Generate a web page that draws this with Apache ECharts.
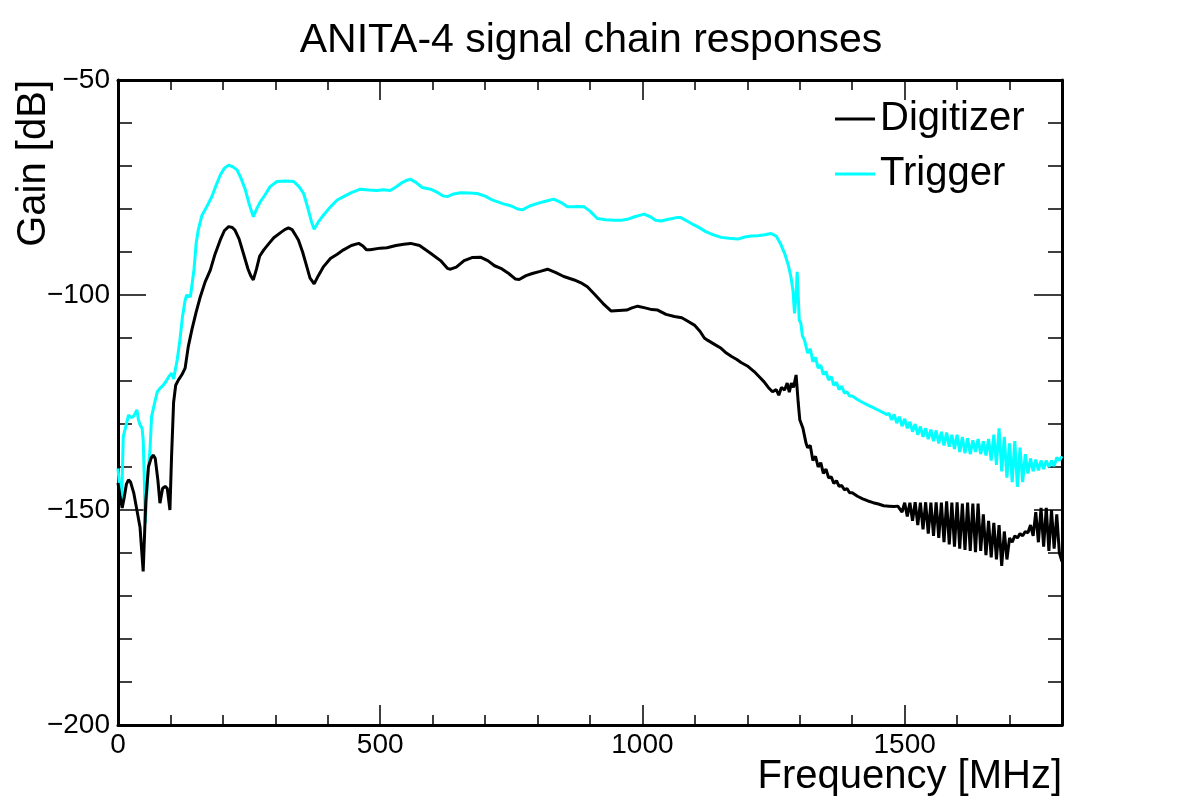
<!DOCTYPE html>
<html>
<head>
<meta charset="utf-8">
<script src="https://cdn.jsdelivr.net/npm/echarts@6/dist/echarts.min.js"></script>
<style>
html,body{margin:0;padding:0;background:#fff;}
#chart{width:1182px;height:805px;}
</style>
</head>
<body>
<div id="chart"></div>
<script>
const chartTitle = 'ANITA-4 signal chain responses';
const xTitle = 'Frequency [MHz]';
const yTitle = 'Gain [dB]';
const seriesNames = ['Digitizer', 'Trigger'];

// [frequency MHz, gain dB]
const digitizerPoints = [
[0,-143.7],[4,-147],[8,-149.5],[12,-147],[16,-144],[20,-143],[24,-143.5],[30,-146],[36,-150],[42,-154],[48,-164.3],[53,-148],[58,-140],[63,-138],[67,-137.2],[71,-138],[76,-143],[80,-148.4],[85,-145],[90,-144.5],[94,-145],[99,-150],[102,-138],[106,-125],[110,-121],[115,-119.8],[122,-118.5],[128,-117],[134,-112],[141,-108],[149,-104],[157,-100.4],[166,-97],[176,-94.2],[185,-90.5],[195,-87.2],[203,-85],[211,-84.1],[218,-84.3],[223,-84.9],[231,-87],[239,-90.3],[248,-94],[253,-95.5],[258,-96.5],[264,-94],[270,-91],[278,-89.5],[288,-88],[297,-86.7],[310,-85.5],[318,-84.8],[325,-84.4],[332,-84.8],[338,-86],[344,-87.2],[352,-90],[360,-93.4],[366,-96],[374,-97.4],[382,-95.5],[392,-93.4],[405,-91.5],[418,-90.5],[430,-89.5],[445,-88.5],[459,-88],[467,-88.6],[474,-89.5],[481,-89.5],[500,-89.1],[513,-89],[530,-88.5],[545,-88.2],[558,-88],[575,-88.5],[596,-90.3],[615,-92],[628,-93.8],[634,-94],[645,-93.5],[660,-92],[675,-91.3],[691,-91.2],[705,-92],[718,-93.2],[730,-93.8],[745,-95],[758,-96.3],[765,-96.4],[778,-95.5],[790,-95],[805,-94.5],[819,-94],[835,-94.8],[850,-95.7],[870,-96.5],[885,-97.3],[895,-98.1],[910,-100],[925,-102],[940,-103.7],[955,-103.6],[970,-103.5],[980,-103],[991,-102.6],[1005,-103],[1018,-103.4],[1029,-103.5],[1045,-104.5],[1061,-105],[1075,-105.3],[1085,-106],[1099,-107],[1110,-108.5],[1118,-110],[1124,-110.5],[1135,-111.3],[1150,-112.4],[1160,-113.5],[1170,-114.3],[1180,-115],[1188,-115.7],[1200,-116.5],[1213,-117.8],[1225,-119.3],[1232,-120.2],[1240,-121.5],[1248,-122.5],[1255,-122],[1260,-123.3],[1265,-121.5],[1271,-122.1],[1276,-120.5],[1280,-122.6],[1284,-120.5],[1288,-121.5],[1293,-118.6],[1297,-125],[1300,-129],[1306,-131],[1312,-134.5],
[1315,-135.5],[1320,-135],[1325,-138.5],[1330,-137.5],[1335,-140],[1340,-139],[1345,-141.5],[1350,-140.5],[1355,-142.5],[1360,-142.3],[1365,-143.8],[1370,-143.2],[1375,-144.5],[1380,-144.3],[1385,-145.3],[1390,-145],[1395,-146],[1400,-146],[1410,-146.8],[1420,-147.4],[1430,-147.9],[1440,-148.3],[1450,-148.6],[1460,-149],[1470,-149.1],[1480,-149.2],[1487,-149.1],
[1490,-149],[1495,-150.5],[1500,-148.3],[1505,-151.5],[1510,-148.3],[1515,-152.5],[1520,-148.2],[1525,-153.5],[1530,-148.3],[1535,-154.5],[1540,-148.2],[1545,-155.5],[1550,-148.3],[1555,-156],[1560,-148.2],[1565,-156.5],[1570,-148.3],[1575,-157.5],[1580,-148],[1585,-158],[1590,-148.3],[1595,-158.5],[1600,-148.2],[1605,-159],[1610,-148.5],[1615,-159.3],[1620,-148.3],[1625,-159.5],[1630,-148.5],[1635,-159.8],[1640,-148.5],[1645,-159.5],[1650,-151],[1655,-160.5],[1660,-152.5],[1665,-161],[1670,-153],[1675,-161.5],[1680,-153.5],[1685,-163],[1690,-155],[1695,-161.5],[1700,-156.5],[1705,-157.5],[1710,-156],[1715,-156.5],[1720,-155.5],[1725,-156],[1730,-155],[1735,-155.3],[1740,-153.5],[1745,-156],[1750,-150.5],[1755,-157.5],[1760,-149.5],[1765,-158.5],[1770,-149.5],[1775,-159.5],[1780,-150],[1785,-159],[1790,-151],[1795,-160],[1800,-162]
];

const triggerPoints = [
[0,-140.3],[4,-146],[7,-147.7],[10,-133],[14,-131],[18,-129],[20,-127.9],[25,-128.5],[29,-128.3],[33,-127.5],[36,-126.7],[39,-129],[42,-130.2],[46,-131],[48,-133.7],[50,-142],[52,-153],[55,-146],[58,-140],[61,-136],[64,-128.3],[70,-125],[75,-122.5],[80,-121.7],[86,-121],[92,-120],[98,-118.8],[102,-118.2],[106,-119.5],[109,-119.8],[113,-115],[118,-110.5],[123,-105],[128,-101.2],[131,-100],[134,-99.6],[138,-100.4],[141,-100.4],[145,-94],[149,-88],[153,-84.9],[160,-81.5],[166,-80.2],[172,-78.8],[179,-77.1],[187,-74.5],[195,-72.1],[203,-70.5],[211,-69.8],[219,-70.2],[227,-70.9],[235,-73],[243,-75.6],[250,-78.8],[258,-81.8],[265,-79.8],[272,-78.2],[280,-76.8],[290,-74.8],[303,-73.6],[320,-73.5],[335,-73.6],[345,-74.8],[354,-76.4],[362,-79.8],[369,-83],[374,-84.7],[382,-83],[392,-81.4],[405,-79.5],[418,-77.9],[432,-77],[445,-76.2],[462,-75.4],[478,-75.6],[494,-75.7],[506,-75.5],[519,-75.7],[530,-74.9],[540,-74],[551,-73.3],[558,-73.1],[568,-73.8],[580,-75],[596,-75.4],[610,-76.2],[620,-77],[628,-77.1],[640,-76.5],[653,-76.2],[670,-76.3],[685,-76.4],[700,-77],[712,-77.8],[723,-78.3],[735,-78.8],[750,-79.3],[762,-80],[771,-80.2],[785,-79.3],[800,-78.7],[815,-78.2],[831,-77.7],[845,-78.5],[857,-79.5],[866,-79.5],[878,-79.4],[889,-79.5],[900,-80.5],[914,-82.2],[930,-82.5],[946,-82.6],[960,-82.6],[971,-82.4],[985,-81.8],[1003,-81.2],[1015,-81.8],[1025,-82.6],[1035,-82.8],[1050,-82.4],[1065,-82],[1073,-82],[1085,-82.8],[1095,-83.5],[1105,-84.1],[1120,-85.2],[1135,-86],[1150,-86.6],[1165,-86.8],[1182,-87],[1195,-86.5],[1207,-86.3],[1220,-86.2],[1233,-86],[1245,-85.7],[1255,-86.3],[1263,-88],[1271,-90.3],[1278,-93],[1283,-95.7],[1287,-99],[1290,-104.3],[1293,-100],[1295,-94.6],[1297,-100],[1299,-105.8],[1302,-106.5],[1305,-109.5],[1309,-110.5],
[1310,-110.5],[1315,-113.5],[1320,-112.5],[1325,-115.5],[1330,-114.5],[1335,-117],[1340,-116.3],[1345,-118.5],[1350,-117.8],[1355,-119.8],[1360,-119],[1365,-121],[1370,-120.3],[1375,-122],[1380,-121.2],[1385,-122.8],[1390,-122.5],[1395,-123.5],[1400,-123.5],[1410,-124.3],[1420,-125],[1430,-125.6],[1440,-126.2],[1450,-126.8],[1460,-127.4],[1465,-127.8],[1470,-127.5],[1475,-129],[1480,-127.8],[1485,-129.8],[1490,-128.3],[1495,-130.5],[1500,-128.8],[1505,-131],[1510,-129.5],[1515,-131.8],[1520,-130],[1525,-132.5],[1530,-130.6],[1535,-133],[1540,-131],[1545,-133.5],[1550,-131.3],[1555,-134],[1560,-131.5],[1565,-134.5],[1570,-131.8],[1575,-135],[1580,-132],[1585,-135.3],[1590,-132.5],[1595,-135.8],[1600,-132.5],[1605,-136.5],[1610,-133],[1615,-136.8],[1620,-133.3],[1625,-137],[1630,-133.8],[1635,-136.5],[1640,-133.5],[1645,-137],[1650,-134],[1655,-137.3],[1660,-133.5],[1665,-138.5],[1670,-132.5],[1675,-139.5],[1680,-131],[1685,-141],[1690,-133],[1695,-142.5],[1700,-134.5],[1705,-143.5],[1710,-134],[1715,-144.6],[1720,-135.5],[1725,-143.5],[1730,-137],[1735,-141.5],[1740,-138],[1745,-141],[1750,-138.3],[1755,-140.8],[1760,-138.5],[1765,-140.5],[1770,-138.5],[1775,-140],[1780,-138.5],[1785,-139.8],[1790,-137.8],[1795,-138.5],[1800,-137.5]
];

const FONT = '"Liberation Sans", Arial, Helvetica, sans-serif';
const chart = echarts.init(document.getElementById('chart'), null, {renderer: 'canvas'});
const minus = v => String(v).replace('-', '\u2212');
const tickLine = {color: '#000', width: 1.5};

function xAx(pos, interval, len, labels, line) {
  return {
    type: 'value', gridIndex: 0, position: pos, min: 0, max: 1800, interval: interval,
    axisLine: {show: line, onZero: false, lineStyle: {color: '#000', width: 3}},
    axisTick: {show: true, inside: true, length: len, lineStyle: tickLine},
    axisLabel: {show: labels, fontFamily: FONT, fontSize: 28, color: '#000', margin: 6,
      showMaxLabel: false, formatter: v => minus(v)},
    splitLine: {show: false}
  };
}
function yAx(pos, labels) {
  return {
    type: 'value', gridIndex: 0, position: pos, min: -200, max: -50, interval: 50,
    axisLine: {show: true, onZero: false, lineStyle: {color: '#000', width: 3}},
    axisTick: {show: true, inside: true, length: 28, lineStyle: tickLine},
    minorTick: {show: true, splitNumber: 5, length: 14, lineStyle: tickLine},
    axisLabel: {show: labels, fontFamily: FONT, fontSize: 28, color: '#000', margin: 8,
      formatter: v => minus(v)},
    splitLine: {show: false}
  };
}

chart.setOption({
  animation: false,
  backgroundColor: '#ffffff',
  title: {
    text: chartTitle, left: 'center', top: 15,
    textStyle: {fontFamily: FONT, fontSize: 41, fontWeight: 'normal', color: '#000'}
  },
  grid: {left: 118, right: 120, top: 80, bottom: 80, containLabel: false},
  legend: {
    data: seriesNames, orient: 'vertical', left: 830, top: 94, itemGap: 15,
    icon: 'rect', itemWidth: 40, itemHeight: 3,
    textStyle: {fontFamily: FONT, fontSize: 40, color: '#000'}
  },
  xAxis: [
    xAx('bottom', 500, 20, true, true),
    xAx('bottom', 100, 10, false, false),
    xAx('top', 500, 20, false, true),
    xAx('top', 100, 10, false, false)
  ],
  yAxis: [yAx('left', true), yAx('right', false)],
  graphic: [
    {type: 'text', x: 1062, y: 777, style: {text: xTitle, font: '40px ' + FONT, fill: '#000', textAlign: 'right', textVerticalAlign: 'middle'}},
    {type: 'text', x: 34, y: 80, rotation: Math.PI / 2, style: {text: yTitle, font: '40px ' + FONT, fill: '#000', textAlign: 'right', textVerticalAlign: 'middle'}}
  ],
  series: [
    {name: seriesNames[0], type: 'line', xAxisIndex: 0, yAxisIndex: 0, data: digitizerPoints,
      showSymbol: false, symbol: 'none', sampling: null, lineStyle: {color: '#000000', width: 3}, itemStyle: {color: '#000000'}, z: 3},
    {name: seriesNames[1], type: 'line', xAxisIndex: 0, yAxisIndex: 0, data: triggerPoints,
      showSymbol: false, symbol: 'none', sampling: null, lineStyle: {color: '#00ffff', width: 3}, itemStyle: {color: '#00ffff'}, z: 2}
  ]
});
</script>
</body>
</html>
